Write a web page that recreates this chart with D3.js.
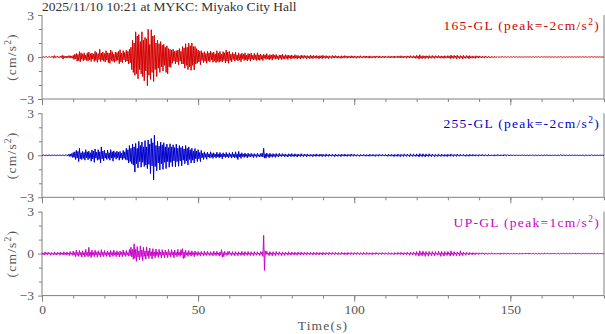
<!DOCTYPE html>
<html>
<head>
<meta charset="utf-8">
<script src="https://cdn.jsdelivr.net/npm/d3@7"></script>
<style>
  body { margin: 0; background: #fff; }
  svg { display: block; }
  text { font-family: "Liberation Serif", "DejaVu Serif", serif; }
</style>
</head>
<body>
<svg id="chart" width="605" height="334"></svg>
<script>
// Station record: three accelerometer components, sampled every 0.25 s
const title = "2025/11/10 10:21 at MYKC: Miyako City Hall";
const sampleInterval = 0.25;           // seconds
const timeDomain = [0, 180];
const timeMajorTicks = [0, 50, 100, 150];
const timeMinorTicks = d3.range(0, 181, 10);
const ampMajorTicks = [-3, 0, 3];
const ampMinorTicks = [-2, -1, 1, 2];
const channelNames = ["165-GL", "255-GL", "UP-GL"];
const channelColors = ["#d40000", "#0000cc", "#cc00cc"];

// Acceleration in units of 0.01 cm/s^2, one row = 10 s
const acc165 = [
  2,-3,1,-2,3,-1,2,-3,1,-2,3,-2,2,-3,6,-9,10,-5,4,-3,5,-4,3,-5,6,-4,12,-15,9,-6,5,-8,7,-5,9,-6,10,-8,6,-9,
  12,-18,20,-14,25,-30,18,-26,38,-35,30,-16,22,-28,30,-20,14,-25,30,-28,35,-20,24,-32,28,-15,22,-32,40,-25,32,-38,24,-18,55,-32,28,-22,36,-30,
  25,-35,45,-22,30,-40,28,-45,50,-25,38,-32,20,-38,35,-28,32,-24,40,-48,52,-34,28,-40,45,-20,32,-35,48,-30,40,-50,55,-42,70,-90,120,-110,100,-130,
  180,-120,150,-155,160,-90,110,-120,180,-140,120,-170,140,-100,130,-205,198,-130,90,-160,195,-110,150,-175,155,-90,100,-140,120,-80,95,-110,110,-70,85,-100,90,-60,70,-110,
  80,-120,60,-70,55,-75,50,-45,55,-30,40,-50,45,-35,50,-55,60,-30,40,-50,75,-50,65,-80,95,-60,70,-90,100,-70,80,-95,100,-60,75,-92,75,-50,60,-45,
  50,-35,40,-55,45,-25,30,-40,38,-30,25,-45,40,-28,30,-35,42,-20,30,-38,35,-30,22,-40,45,-32,28,-38,40,-30,20,-35,38,-25,30,-42,50,-30,35,-45,
  40,-25,20,-35,32,-18,22,-30,35,-20,15,-28,30,-22,18,-34,28,-15,20,-25,30,-20,14,-28,25,-18,22,-30,28,-16,12,-22,26,-18,15,-25,30,-20,16,-24,
  22,-16,12,-25,20,-10,15,-18,24,-14,10,-20,18,-12,14,-22,20,-10,12,-16,18,-12,8,-20,15,-10,14,-18,20,-12,9,-15,16,-10,12,-18,14,-8,10,-15,
  15,-9,7,-12,16,-8,10,-14,12,-7,6,-15,14,-8,9,-10,12,-6,8,-14,10,-7,6,-12,14,-9,8,-11,12,-6,7,-10,11,-8,6,-13,10,-7,9,-12,
  12,-6,5,-10,10,-7,6,-12,9,-5,4,-10,11,-6,7,-8,10,-5,6,-9,8,-5,4,-10,9,-6,5,-8,10,-4,6,-9,8,-5,4,-7,9,-6,5,-8,
  8,-5,4,-9,7,-4,5,-8,9,-5,3,-7,8,-4,6,-8,7,-3,5,-9,8,-5,3,-7,6,-4,5,-8,7,-3,4,-6,8,-5,3,-7,6,-4,5,-7,
  7,-4,3,-6,8,-5,4,-7,6,-3,5,-8,7,-4,3,-6,8,-5,4,-7,9,-5,4,-8,7,-3,5,-9,8,-4,6,-7,10,-5,4,-8,9,-6,5,-10,
  12,-7,6,-14,16,-8,5,-12,10,-6,7,-12,9,-5,6,-11,10,-6,4,-9,11,-6,5,-10,9,-4,6,-8,10,-6,5,-9,8,-5,6,-10,9,-5,4,-8,
  10,-6,5,-12,14,-7,6,-11,12,-5,7,-15,13,-6,5,-12,10,-5,6,-14,12,-6,4,-10,11,-5,6,-13,10,-5,4,-9,8,-5,3,-10,9,-4,5,-8,
  8,-4,3,-7,6,-4,3,-8,7,-3,2,-6,5,-3,2,-6,4,-2,3,-5,4,-2,1,-3,3,-2,1,-4,3,-1,2,-2,3,-1,1,-3,2,-1,1,-3,
  2,-1,1,-2,3,-1,1,-2,2,-1,1,-3,2,-1,1,-2,1,-1,1,-2,2,-1,1,-1,2,-1,1,-2,1,-1,1,-2,2,-1,1,-1,2,-1,1,-2,
  2,-1,1,-1,2,-1,1,-2,1,-1,1,-2,2,-1,1,-1,2,-1,1,-2,1,-1,1,-1,2,-1,1,-2,1,-1,1,-2,1,-1,1,-2,1,-1,2,-1,
  1,-1,1,-2,2,-1,1,-1,1,-1,1,-2,2,-1,1,-1,1,-1,1,-2,1,-1,1,-1,2,-1,1,-1,2,-1,1,-1,1,-1,1,-2,1,-1,1,-1,
  0
];
const acc255 = [
  1,-1,2,-1,1,-2,1,-1,2,-1,1,-2,1,-1,2,-1,1,-1,2,-2,1,-1,2,-1,1,-2,2,-1,1,-2,3,-2,4,-3,6,-8,10,-8,12,-15,
  20,-15,25,-30,35,-20,28,-45,50,-25,18,-30,28,-22,20,-35,40,-18,25,-32,30,-22,18,-42,38,-25,30,-50,45,-20,22,-35,40,-30,25,-55,60,-25,30,-40,
  35,-20,15,-30,38,-22,18,-35,40,-20,25,-42,32,-15,20,-28,30,-18,22,-35,28,-20,15,-32,35,-22,25,-30,50,-35,40,-55,70,-45,50,-60,80,-70,60,-120,
  85,-60,50,-90,100,-45,70,-85,95,-50,60,-80,105,-70,60,-95,110,-65,80,-130,120,-75,90,-175,143,-80,70,-110,100,-55,65,-105,95,-60,75,-100,90,-50,60,-95,
  80,-45,55,-85,82,-50,60,-80,75,-40,55,-82,80,-45,50,-78,70,-40,55,-75,65,-35,45,-60,70,-40,50,-68,60,-30,40,-55,50,-35,30,-55,48,-25,30,-45,
  40,-25,20,-45,35,-18,15,-30,25,-15,12,-28,22,-12,10,-20,25,-14,12,-22,18,-10,8,-20,22,-12,10,-18,20,-12,8,-25,18,-10,9,-16,20,-12,8,-18,
  18,-10,8,-20,22,-12,9,-18,25,-15,10,-30,28,-12,10,-22,18,-9,8,-15,16,-8,6,-18,15,-9,6,-12,14,-8,6,-16,12,-7,5,-15,14,-7,5,-12,
  12,-8,15,-12,50,-20,10,-20,16,-8,6,-18,15,-8,5,-14,12,-8,6,-15,13,-7,5,-12,14,-6,5,-10,12,-5,6,-11,10,-6,4,-12,11,-5,6,-10,
  12,-6,4,-10,11,-5,4,-12,10,-5,4,-9,12,-5,4,-10,9,-4,5,-11,10,-5,3,-8,9,-5,4,-10,8,-4,5,-9,10,-4,3,-8,9,-4,5,-10,
  8,-4,3,-9,10,-4,3,-8,9,-4,3,-7,8,-4,3,-10,9,-4,3,-8,7,-3,4,-9,8,-3,4,-7,9,-4,3,-8,7,-3,4,-8,9,-3,4,-7,
  8,-3,2,-7,6,-3,2,-8,7,-3,2,-6,8,-3,2,-7,6,-3,2,-7,8,-3,2,-6,7,-3,2,-8,6,-3,2,-7,8,-3,2,-6,7,-3,2,-6,
  7,-3,2,-8,9,-3,2,-7,8,-3,2,-9,7,-3,2,-8,9,-3,2,-10,8,-3,2,-9,10,-3,2,-8,9,-3,2,-10,11,-3,2,-9,10,-3,2,-9,
  10,-4,3,-11,12,-4,3,-10,11,-4,3,-12,10,-4,3,-9,11,-4,3,-10,9,-3,2,-10,8,-3,2,-9,10,-3,2,-8,9,-3,2,-8,7,-3,2,-9,
  8,-3,2,-7,9,-3,2,-8,7,-3,2,-8,9,-3,2,-7,8,-2,2,-6,7,-2,2,-8,6,-2,2,-7,8,-2,2,-6,7,-2,2,-6,5,-2,2,-7,
  6,-2,1,-5,7,-2,1,-6,5,-2,1,-6,6,-2,1,-5,4,-2,1,-6,5,-2,1,-4,6,-2,1,-5,4,-2,1,-5,6,-2,1,-4,5,-1,1,-5,
  3,-1,1,-3,3,-1,1,-3,2,-1,1,-3,3,-1,1,-2,3,-1,1,-3,2,-1,1,-3,3,-1,1,-2,3,-1,1,-3,2,-1,1,-3,3,-1,1,-2,
  2,-1,1,-3,2,-1,1,-2,2,-1,1,-3,2,-1,1,-2,3,-1,1,-2,2,-1,1,-2,3,-1,1,-2,2,-1,1,-2,2,-1,1,-3,2,-1,1,-2,
  2,-1,1,-2,3,-1,1,-2,2,-1,1,-2,2,-1,1,-3,2,-1,1,-2,2,-1,1,-2,3,-1,1,-2,2,-1,1,-2,2,-1,1,-2,3,-1,1,-2,
  0
];
const accUP = [
  8,-6,4,-10,12,-5,6,-9,10,-4,5,-12,8,-5,4,-11,12,-6,5,-10,9,-4,6,-12,11,-5,4,-10,13,-6,5,-11,12,-6,4,-14,15,-6,5,-12,
  18,-10,8,-22,25,-12,8,-20,22,-10,9,-25,20,-10,8,-24,30,-12,9,-22,45,-15,10,-28,25,-12,8,-22,24,-10,9,-26,20,-10,8,-25,28,-12,10,-22,
  22,-10,8,-20,18,-8,9,-25,22,-10,8,-20,25,-10,8,-22,20,-9,8,-24,18,-8,9,-22,25,-10,8,-20,22,-9,8,-18,30,-15,45,-25,30,-40,70,-35,
  30,-55,50,-25,20,-45,55,-22,25,-50,45,-20,18,-40,48,-18,20,-35,40,-15,14,-38,35,-15,12,-30,32,-14,12,-28,30,-12,10,-32,28,-12,10,-30,25,-10,
  12,-28,30,-12,9,-25,28,-10,12,-30,25,-10,8,-22,30,-12,10,-20,28,-10,35,-35,12,-30,25,-10,8,-20,22,-8,8,-18,20,-8,7,-22,18,-8,7,-15,
  15,-8,6,-18,16,-6,5,-15,18,-8,6,-14,16,-6,5,-15,14,-6,5,-16,18,-6,5,-15,16,-6,5,-18,12,-8,28,-25,8,-22,16,-6,5,-14,15,-6,
  16,-6,5,-14,15,-6,5,-16,14,-5,4,-15,13,-5,4,-14,16,-6,5,-15,14,-5,4,-13,15,-6,5,-14,13,-5,4,-15,14,-5,4,-12,13,-5,4,-14,
  14,-5,12,-20,130,-120,20,-6,16,-5,4,-15,14,-5,4,-16,13,-5,4,-14,15,-5,4,-12,13,-5,4,-14,12,-5,4,-13,11,-4,4,-12,13,-5,4,-11,
  12,-4,3,-11,10,-4,3,-12,11,-4,3,-10,12,-4,3,-11,10,-4,3,-9,11,-4,3,-10,9,-4,3,-10,11,-4,3,-9,10,-4,3,-9,8,-3,3,-10,
  9,-3,3,-10,8,-3,2,-9,10,-3,3,-8,9,-3,2,-8,10,-3,3,-9,8,-3,2,-7,9,-3,3,-8,7,-3,2,-9,8,-3,2,-7,8,-3,2,-9,
  8,-3,2,-7,9,-3,2,-8,7,-3,2,-8,9,-3,2,-7,8,-3,2,-7,6,-3,2,-8,7,-2,2,-6,8,-3,2,-7,6,-2,2,-7,8,-3,2,-6,
  7,-2,2,-6,8,-3,2,-7,6,-2,2,-8,7,-2,2,-6,8,-3,2,-7,9,-3,3,-10,8,-3,3,-9,10,-3,3,-12,11,-4,3,-10,12,-4,3,-14,
  15,-5,4,-18,20,-6,5,-16,18,-6,5,-20,15,-5,4,-18,16,-5,4,-14,15,-5,4,-16,14,-5,4,-12,18,-6,5,-20,16,-5,4,-18,15,-5,4,-14,
  16,-5,4,-18,20,-6,5,-15,14,-5,4,-16,12,-4,4,-18,20,-6,5,-15,10,-4,3,-12,9,-3,3,-10,8,-3,3,-9,7,-3,2,-8,6,-2,2,-7,
  6,-2,2,-5,6,-2,2,-7,5,-2,1,-6,5,-2,1,-4,6,-2,1,-5,4,-2,1,-5,4,-2,1,-6,5,-2,1,-4,5,-2,1,-4,5,-2,1,-4,
  4,-2,1,-5,4,-1,1,-3,4,-2,1,-5,3,-1,1,-4,4,-1,1,-3,4,-1,1,-3,5,-2,1,-4,3,-1,1,-4,3,-1,1,-4,3,-1,1,-4,
  3,-1,1,-4,4,-1,1,-3,3,-1,1,-4,3,-1,1,-3,4,-1,1,-3,3,-1,1,-4,3,-1,1,-3,4,-1,1,-3,3,-1,1,-3,4,-1,1,-3,
  3,-1,1,-3,4,-1,1,-3,3,-1,1,-4,3,-1,1,-3,3,-1,1,-3,4,-1,1,-3,3,-1,1,-3,4,-1,1,-3,3,-1,1,-3,3,-1,1,-3,
  0
];
const channelData = [acc165, acc255, accUP];

const svg = d3.select("#chart");
const axisColor = "#808080";
const textColor = "#555";

const x = d3.scaleLinear().domain(timeDomain).range([42, 604]);
const panelHalf = 42;
const panelZero = [57, 155.3, 253.6];

svg.append("text")
  .attr("x", 42).attr("y", 11)
  .attr("font-size", 13.5).attr("fill", "#333")
  .text(title);

channelNames.forEach((name, i) => {
  const z = panelZero[i];
  const y = d3.scaleLinear().domain([-3, 3]).range([z + panelHalf, z - panelHalf]);
  const g = svg.append("g");
  const top = y(3), bottom = y(-3);

  // frame: left, bottom and right sides
  g.append("path")
    .attr("d", `M${x(0)},${top}V${bottom}H${x(180)}V${top}`)
    .attr("fill", "none").attr("stroke", axisColor).attr("stroke-width", 1);

  // time ticks below each panel
  const minor = d3.axisBottom(x).tickValues(timeMinorTicks).tickSize(3).tickSizeOuter(0).tickFormat("");
  const major = d3.axisBottom(x).tickValues(timeMajorTicks).tickSize(6).tickSizeOuter(0)
    .tickFormat(i === 2 ? d3.format("d") : "");
  [minor, major].forEach(ax => {
    const a = g.append("g").attr("transform", `translate(0,${bottom})`).call(ax);
    a.select(".domain").remove();
    a.selectAll(".tick line").attr("stroke", axisColor);
    a.selectAll(".tick text").attr("fill", textColor).attr("font-size", 13.5)
      .attr("font-family", "Liberation Serif, serif").attr("dy", "0.95em").attr("y", 6);
  });

  // amplitude ticks on the left
  const yMinor = d3.axisLeft(y).tickValues(ampMinorTicks).tickSize(3).tickSizeOuter(0).tickFormat("");
  const yMajor = d3.axisLeft(y).tickValues(ampMajorTicks).tickSize(4).tickSizeOuter(0).tickFormat(d3.format("d"));
  [yMinor, yMajor].forEach(ax => {
    const a = g.append("g").attr("transform", `translate(${x(0)},0)`).call(ax);
    a.select(".domain").remove();
    a.selectAll(".tick line").attr("stroke", axisColor);
    a.selectAll(".tick text").attr("fill", textColor).attr("font-size", 13.5)
      .attr("font-family", "Liberation Serif, serif").attr("x", -8);
  });

  // unit label
  const ul = g.append("text")
    .attr("transform", `translate(16,${z}) rotate(-90)`)
    .attr("text-anchor", "middle").attr("font-size", 13.5).attr("fill", textColor)
    .attr("letter-spacing", 1.2);
  ul.append("tspan").text("(cm/s");
  ul.append("tspan").attr("font-size", 9.5).attr("dy", -5).text("2");
  ul.append("tspan").attr("dy", 5).text(")");

  // waveform
  const vals = channelData[i].map(v => v / 100);
  const line = d3.line()
    .x((d, k) => x(k * sampleInterval))
    .y(d => y(d));
  g.append("path").datum(vals)
    .attr("d", line)
    .attr("fill", "none")
    .attr("stroke", channelColors[i])
    .attr("stroke-width", 1)
    .attr("stroke-linejoin", "miter");

  // component label with the peak value taken from the record
  const peak = vals.reduce((p, v) => Math.abs(v) > Math.abs(p) ? v : p, 0);
  const lbl = g.append("text")
    .attr("x", 600).attr("y", top + 15)
    .attr("text-anchor", "end").attr("font-size", 13.5)
    .attr("fill", channelColors[i]).attr("letter-spacing", 1.3);
  lbl.append("tspan").text(`${name} (peak=${Math.round(peak)}cm/s`);
  lbl.append("tspan").attr("font-size", 9.5).attr("dy", -5).text("2");
  lbl.append("tspan").attr("dy", 5).text(")");
});

svg.append("text")
  .attr("x", x(90)).attr("y", 330)
  .attr("text-anchor", "middle").attr("font-size", 13.5).attr("fill", textColor)
  .attr("letter-spacing", 1.2)
  .text("Time(s)");
</script>
</body>
</html>
